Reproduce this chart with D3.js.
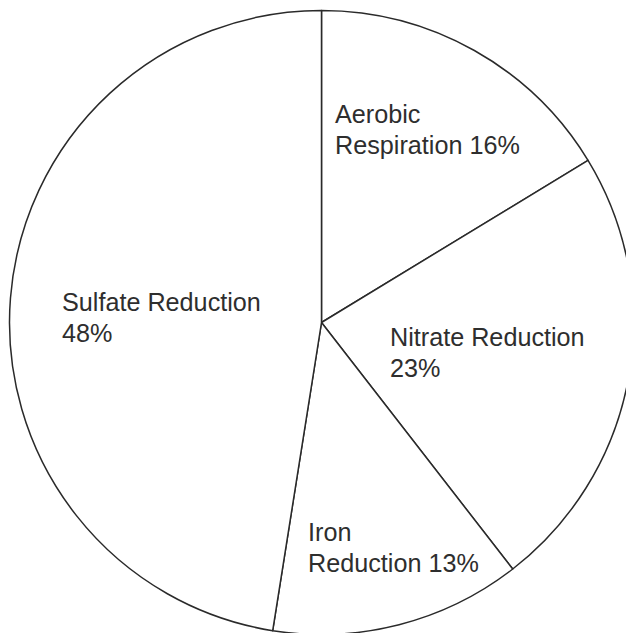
<!DOCTYPE html>
<html><head><meta charset="utf-8">
<script src="https://cdn.jsdelivr.net/npm/d3@7"></script>
<style>body{margin:0;background:#fff}svg{display:block}</style>
</head><body>
<script>
const categories = ["Aerobic Respiration", "Nitrate Reduction", "Iron Reduction", "Sulfate Reduction"];
const values = [16.3, 23.2, 13.0, 47.5];
const labelLines = [["Aerobic", "Respiration 16%"], ["Nitrate Reduction", "23%"], ["Iron", "Reduction 13%"], ["Sulfate Reduction", "48%"]];

const W = 626, H = 633;
const cx = 321.5, cy = 322.5, R = 312;
const svg = d3.select("body").append("svg").attr("width", W).attr("height", H);
const g = svg.append("g").attr("transform", `translate(${cx},${cy})`);

const pie = d3.pie().sort(null).value(d => d)(values);
const arc = d3.arc().innerRadius(0).outerRadius(R);
g.selectAll("path").data(pie).join("path")
  .attr("d", arc).attr("fill", "#fff").attr("stroke", "#2a2a2a").attr("stroke-width", 1.5)
  .attr("stroke-linejoin", "round");

// label anchor positions (offsets relative to the pie centre, in px)
const labelPos = [[13.5, -199.5], [68.5, 23.5], [-13.5, 218.5], [-259.5, -11.5]];
const lineGap = 31.3;
labelLines.forEach((lines, i) => {
  const t = g.append("text")
    .attr("x", labelPos[i][0]).attr("y", labelPos[i][1])
    .attr("font-family", "Liberation Sans, Arial, sans-serif")
    .attr("font-size", 25.2).attr("fill", "#2e2e2e");
  lines.forEach((s, j) => t.append("tspan").attr("x", labelPos[i][0]).attr("dy", j ? lineGap : 0).text(s));
});
</script>
</body></html>
